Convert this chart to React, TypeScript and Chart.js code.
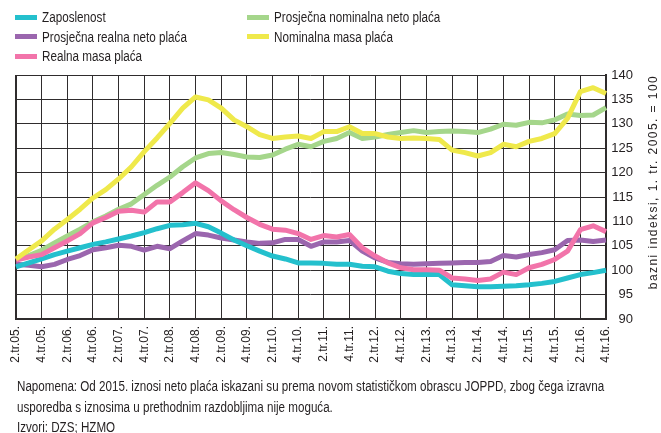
import { useEffect, useRef } from 'react';
import { Chart, registerables } from 'chart.js';

Chart.register(...registerables);

const quarters = [
  '2.tr.05.', '3.tr.05.', '4.tr.05.',
  '1.tr.06.', '2.tr.06.', '3.tr.06.', '4.tr.06.',
  '1.tr.07.', '2.tr.07.', '3.tr.07.', '4.tr.07.',
  '1.tr.08.', '2.tr.08.', '3.tr.08.', '4.tr.08.',
  '1.tr.09.', '2.tr.09.', '3.tr.09.', '4.tr.09.',
  '1.tr.10.', '2.tr.10.', '3.tr.10.', '4.tr.10.',
  '1.tr.11.', '2.tr.11.', '3.tr.11.', '4.tr.11.',
  '1.tr.12.', '2.tr.12.', '3.tr.12.', '4.tr.12.',
  '1.tr.13.', '2.tr.13.', '3.tr.13.', '4.tr.13.',
  '1.tr.14.', '2.tr.14.', '3.tr.14.', '4.tr.14.',
  '1.tr.15.', '2.tr.15.', '3.tr.15.', '4.tr.15.',
  '1.tr.16.', '2.tr.16.', '3.tr.16.', '4.tr.16.',
];

const zaposlenost = [
  100.7, 101.5, 102.3, 103.2, 103.9, 104.6, 105.3, 105.8, 106.4, 107.0,
  107.7, 108.5, 109.2, 109.3, 109.6, 108.9, 107.6, 106.2, 105.0, 103.9,
  102.9, 102.3, 101.5, 101.5, 101.4, 101.2, 101.2, 100.8, 100.7, 99.8,
  99.3, 99.1, 99.1, 99.1, 97.0, 96.8, 96.6, 96.6, 96.7, 96.8,
  97.0, 97.3, 97.7, 98.4, 99.1, 99.5, 100.0,
];

const realnaNetoPlaca = [
  101.2, 101.0, 100.7, 101.2, 102.2, 103.0, 104.2, 104.6, 105.1, 104.9,
  104.1, 104.9, 104.4, 106.0, 107.5, 107.2, 106.6, 106.2, 105.8, 105.5,
  105.6, 106.3, 106.3, 104.9, 105.8, 105.8, 106.1, 103.9, 102.5, 101.6,
  101.3, 101.2, 101.3, 101.4, 101.5, 101.6, 101.6, 101.8, 103.0, 102.7,
  103.2, 103.6, 104.2, 106.1, 106.2, 105.9, 106.2,
];

const realnaMasaPlaca = [
  102.1, 102.7, 103.2, 104.6, 106.0, 107.5, 109.7, 110.8, 112.1, 112.3,
  111.9, 114.0, 114.0, 115.9, 117.9, 116.3, 114.2, 112.4, 110.8, 109.4,
  108.4, 108.2, 107.5, 106.3, 107.1, 106.8, 107.3, 104.6, 102.9, 101.5,
  100.5, 100.1, 100.1, 100.0, 98.4, 98.2, 97.9, 98.2, 99.6, 99.1,
  100.5, 101.2, 102.2, 103.9, 108.3, 109.1, 107.9,
];

const nominalnaNetoPlaca = [
  102.2, 103.0, 104.1, 105.6, 107.0, 108.4, 109.9, 111.1, 112.5, 113.6,
  115.5, 117.4, 119.1, 121.2, 123.0, 123.9, 124.1, 123.7, 123.2, 123.1,
  123.6, 124.8, 125.8, 125.3, 126.4, 127.0, 128.2, 127.0, 127.3, 127.8,
  128.2, 128.6, 128.2, 128.4, 128.5, 128.4, 128.2, 128.9, 129.9, 129.7,
  130.3, 130.2, 130.8, 132.0, 131.7, 131.8, 133.3,
];

const nominalnaMasaPlaca = [
  102.3, 104.2, 106.0, 108.4, 110.4, 112.5, 114.8, 116.5, 118.7, 121.2,
  124.3, 127.1, 130.1, 133.2, 135.5, 134.9, 133.2, 130.8, 129.4, 127.8,
  127.0, 127.3, 127.5, 127.0, 128.4, 128.4, 129.4, 128.0, 128.0, 127.3,
  127.0, 127.1, 127.0, 126.8, 124.6, 124.1, 123.4, 124.1, 125.8, 125.3,
  126.4, 127.0, 128.0, 131.1, 136.6, 137.4, 136.2,
];

const seriesNames = [
  'Zaposlenost',
  'Prosječna nominalna neto plaća',
  'Prosječna realna neto plaća',
  'Nominalna masa plaća',
  'Realna masa plaća',
];
const seriesColors = ['#24c0cd', '#a5d68b', '#9b66ae', '#efe94b', '#f274aa'];

const yMin = 90;
const yMax = 140;
const yStep = 5;
const yTitle = 'bazni indeksi, 1. tr. 2005. = 100';
const noteLines = [
  'Napomena: Od 2015. iznosi neto plaća iskazani su prema novom statističkom obrascu JOPPD, zbog čega izravna',
  'usporedba s iznosima u prethodnim razdobljima nije moguća.',
  'Izvori: DZS; HZMO',
];

const FONT = '"Liberation Sans", Arial, sans-serif';
const INK = '#231f20';
const GRID = '#2f2c2d';

const legendPos = [
  { x: 15, y: 17 },
  { x: 247, y: 17 },
  { x: 15, y: 36.5 },
  { x: 247, y: 36.5 },
  { x: 15, y: 56 },
];

export default function App() {
  const canvasRef = useRef<HTMLCanvasElement | null>(null);

  useEffect(() => {
    const canvas = canvasRef.current;
    if (!canvas) return;

    const yTitlePlugin = {
      id: 'yTitleRotated',
      afterDraw(chart: any) {
        const ctx = chart.ctx as CanvasRenderingContext2D;
        ctx.save();
        ctx.translate(653, 182);
        ctx.rotate(-Math.PI / 2);
        ctx.font = '13px ' + FONT;
        ctx.fillStyle = INK;
        ctx.textAlign = 'center';
        ctx.textBaseline = 'middle';
        if ('letterSpacing' in ctx) (ctx as any).letterSpacing = '1.6px';
        ctx.scale(0.92, 1);
        ctx.fillText(yTitle, 0, 0);
        ctx.restore();
      },
    };

    const dataArrays = [zaposlenost, nominalnaNetoPlaca, realnaNetoPlaca, nominalnaMasaPlaca, realnaMasaPlaca];
    const drawOrder = [2, 4, 3, 0, 1];

    const chart = new Chart(canvas, {
      type: 'line',
      data: {
        labels: quarters,
        datasets: dataArrays.map((d, i) => ({
          label: seriesNames[i],
          data: d,
          borderColor: seriesColors[i],
          backgroundColor: seriesColors[i],
          borderWidth: 5,
          pointRadius: 0,
          tension: 0,
          fill: false,
          order: drawOrder[i],
          borderJoinStyle: 'round' as const,
        })),
      },
      options: {
        responsive: false,
        animation: false,
        layout: { padding: { left: 16, top: 75, right: 28, bottom: 0 } },
        plugins: {
          legend: { display: false },
          tooltip: { enabled: false },
          title: { display: false },
        },
        scales: {
          x: {
            type: 'category',
            offset: false,
            afterFit: (scale: any) => {
              scale.height = 114;
            },
            grid: {
              drawTicks: false,
              color: (c: any) => (c.index % 2 === 0 ? GRID : 'rgba(0,0,0,0)'),
              lineWidth: (c: any) => (c.index === 0 ? 2 : 1),
            },
            border: { display: true, color: GRID, width: 2 },
            ticks: {
              autoSkip: false,
              minRotation: 90,
              maxRotation: 90,
              padding: 7,
              color: INK,
              font: { family: FONT, size: 12 },
              callback: (_v: any, i: number) => (i % 2 === 0 ? quarters[i] : ''),
            },
          },
          y: {
            type: 'linear',
            position: 'right',
            min: yMin,
            max: yMax,
            afterFit: (scale: any) => {
              scale.width = 27;
            },
            grid: { drawTicks: false, color: GRID, lineWidth: 1 },
            border: { display: true, color: GRID, width: 2 },
            ticks: {
              stepSize: yStep,
              padding: 6,
              crossAlign: 'far',
              color: INK,
              font: { family: FONT, size: 13 },
            },
          },
        },
      },
      plugins: [yTitlePlugin],
    });

    return () => {
      chart.destroy();
    };
  }, []);

  return (
    <div
      style={{
        position: 'absolute',
        left: 0,
        top: 0,
        width: 661,
        height: 433,
        background: '#fff',
        fontFamily: FONT,
        color: INK,
        overflow: 'hidden',
      }}
    >
      <canvas ref={canvasRef} width={661} height={433} style={{ position: 'absolute', left: 0, top: 0 }} />
      {seriesNames.map((name, i) => (
        <div key={name}>
          <div
            style={{
              position: 'absolute',
              left: legendPos[i].x,
              top: legendPos[i].y - 2.5,
              width: 22,
              height: 5,
              background: seriesColors[i],
            }}
          />
          <div
            style={{
              position: 'absolute',
              left: legendPos[i].x + 27,
              top: legendPos[i].y - 9,
              fontSize: 14,
              lineHeight: '18px',
              whiteSpace: 'nowrap',
              transform: 'scaleX(0.835)',
              transformOrigin: '0 0',
            }}
          >
            {name}
          </div>
        </div>
      ))}
      {noteLines.map((line, i) => (
        <div
          key={i}
          style={{
            position: 'absolute',
            left: 17,
            top: 377 + i * 20.5,
            fontSize: 14,
            lineHeight: '18px',
            whiteSpace: 'nowrap',
            transform: 'scaleX(0.83)',
            transformOrigin: '0 0',
          }}
        >
          {line}
        </div>
      ))}
    </div>
  );
}
